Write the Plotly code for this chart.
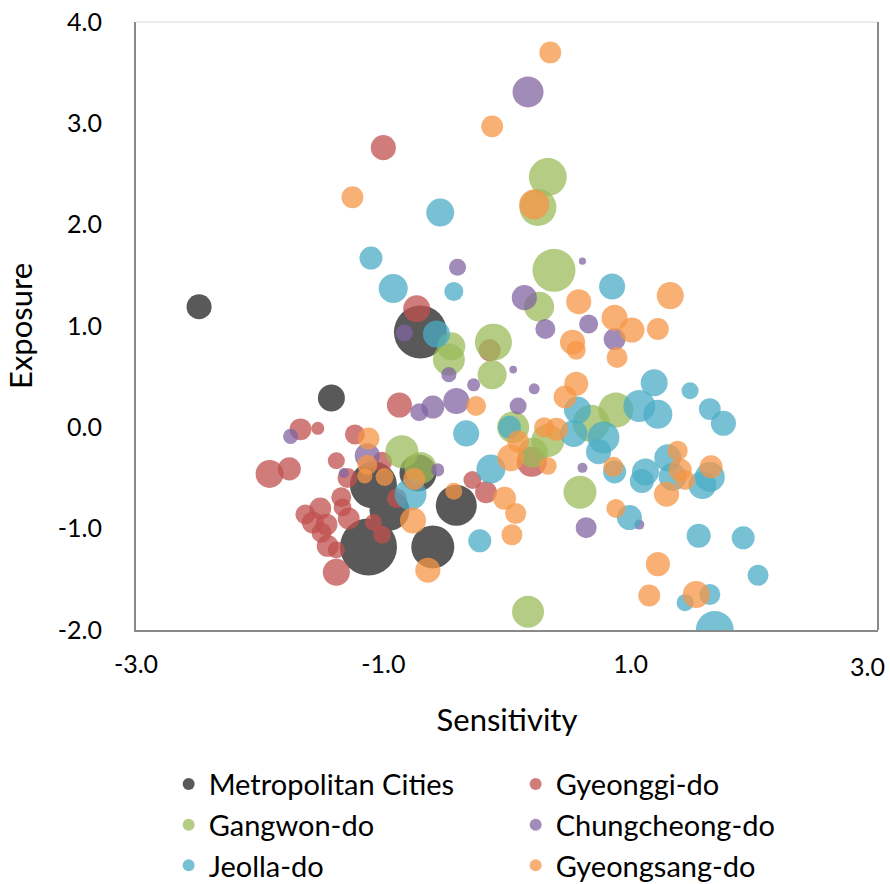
import plotly.graph_objects as go

# ---- data (Sensitivity, Exposure, bubble size) ----
metro_x = [-2.49, -1.42, -0.70, -1.12, -1.08, -0.95, -0.72, -0.41, -0.60]
metro_y = [1.19, 0.29, 0.94, -1.18, -0.57, -0.82, -0.45, -0.77, -1.18]
metro_s = [6.3, 7.3, 28.1, 32.5, 22.1, 16.0, 13.7, 16.8, 18.5]

gyeonggi_x = [-1.00, -0.73, -0.87, -0.14, -0.28, -0.17, 0.20, -1.67, -1.53, -1.23,
              -1.38, -1.01, -1.29, -1.92, -1.76, -0.89, -1.34, -1.33, -1.51, -1.63,
              -1.28, -1.57, -1.46, -1.50, -1.45, -1.38, -1.38, -1.08, -1.01]
gyeonggi_y = [2.76, 1.17, 0.22, 0.76, -0.52, -0.64, -0.34, -0.02, -0.01, -0.07,
              -0.33, -0.34, -0.50, -0.46, -0.41, -0.70, -0.69, -0.79, -0.80, -0.86,
              -0.90, -0.94, -0.96, -1.04, -1.17, -1.21, -1.43, -0.94, -1.06]
gyeonggi_s = [6.3, 7.3, 6.3, 4.8, 3.2, 4.8, 9.0, 4.8, 1.7, 4.0,
              2.9, 4.0, 4.0, 7.8, 5.3, 4.0, 4.0, 3.2, 4.8, 4.0,
              4.8, 4.8, 4.8, 4.0, 4.8, 2.9, 7.3, 2.9, 3.2]

gangwon_x = [0.33, 0.25, 0.38, 0.26, -0.45, -0.47, -0.11, -0.12, 0.05, 0.88,
             0.68, 0.33, 0.21, -0.85, -0.70, 0.59, 0.17]
gangwon_y = [2.47, 2.17, 1.55, 1.19, 0.80, 0.67, 0.84, 0.52, 0.00, 0.17,
             0.04, -0.13, -0.25, -0.24, -0.40, -0.64, -1.82]
gangwon_s = [14.4, 13.7, 18.5, 9.0, 7.8, 10.2, 13.7, 8.4, 10.2, 12.3,
             13.7, 10.9, 9.0, 10.9, 10.2, 10.9, 10.2]

chung_x = [0.17, -0.40, 0.61, 0.14, 0.31, 0.66, 0.87, -0.83, -0.47, 0.05,
           -0.27, 0.22, -0.71, -0.60, -0.41, 0.09, 0.61, -0.56, 0.64, 1.07,
           -1.75, -1.13, -1.32]
chung_y = [3.31, 1.58, 1.64, 1.28, 0.97, 1.02, 0.87, 0.93, 0.52, 0.57,
           0.42, 0.38, 0.15, 0.20, 0.26, 0.21, -0.40, -0.42, -0.99, -0.96,
           -0.09, -0.28, -0.45]
chung_s = [9.6, 2.9, 0.5, 6.3, 4.0, 3.6, 4.8, 2.9, 2.3, 0.6,
           1.7, 1.2, 3.2, 5.3, 6.8, 2.9, 1.0, 1.7, 4.4, 1.0,
           2.3, 6.3, 1.0]

jeolla_x = [-0.54, -1.10, -0.92, -0.43, 0.85, -0.57, -0.33, 0.02, 1.19, 1.48,
            1.64, 1.75, 1.07, 1.22, 0.57, 0.54, 0.78, 0.74, -0.13, 0.87,
            1.30, 1.12, 1.09, 1.34, 1.58, 1.64, 0.99, -0.78, -0.22, 1.55,
            1.91, 2.03, 1.64, 1.44, 1.68]
jeolla_y = [2.12, 1.67, 1.37, 1.34, 1.39, 0.92, -0.06, 0.00, 0.44, 0.36,
            0.18, 0.04, 0.21, 0.13, 0.17, -0.06, -0.10, -0.24, -0.41, -0.44,
            -0.30, -0.44, -0.53, -0.49, -0.57, -0.49, -0.89, -0.66, -1.12, -1.07,
            -1.09, -1.46, -1.65, -1.73, -2.00]
jeolla_s = [7.8, 5.3, 8.4, 3.6, 6.8, 7.3, 6.8, 5.3, 7.3, 2.9,
            4.8, 6.3, 10.2, 8.4, 7.3, 7.3, 10.2, 6.3, 8.4, 5.3,
            7.3, 7.3, 5.8, 7.8, 7.8, 9.0, 6.3, 10.2, 5.3, 5.8,
            5.3, 4.4, 4.4, 2.9, 14.4]

gyeongsang_x = [0.35, -0.12, -1.25, 0.22, 0.58, 0.87, 1.01, 1.32, 1.22, 0.53,
                0.56, 0.89, 0.56, 0.47, -0.25, 0.30, 0.40, 0.09, 0.03, 0.33,
                0.86, 1.38, 1.40, 1.44, 1.65, 1.29, 0.88, -0.02, 0.07, 0.04,
                -0.43, -0.64, -0.76, -0.75, -1.12, -1.13, -1.15, -0.99, 1.22, 1.15,
                1.53]
gyeongsang_y = [3.70, 2.97, 2.27, 2.20, 1.24, 1.08, 0.96, 1.30, 0.97, 0.84,
                0.76, 0.69, 0.43, 0.30, 0.21, 0.00, -0.02, -0.14, -0.30, -0.38,
                -0.39, -0.23, -0.42, -0.52, -0.39, -0.66, -0.80, -0.70, -0.85, -1.06,
                -0.63, -1.41, -0.92, -0.51, -0.11, -0.37, -0.48, -0.49, -1.35, -1.66,
                -1.65]
gyeongsang_s = [4.8, 4.8, 4.8, 9.0, 6.3, 6.8, 6.3, 7.3, 4.8, 6.3,
                3.6, 4.4, 5.8, 5.3, 4.0, 4.0, 5.3, 4.8, 7.3, 3.2,
                4.0, 4.0, 5.3, 4.0, 5.3, 6.3, 3.6, 5.3, 4.4, 4.4,
                2.9, 6.3, 6.8, 4.8, 4.8, 4.0, 2.3, 3.2, 5.8, 4.8,
                7.3]

x_ticks = [-3, -1, 1, 3]
x_ticktext = ["-3.0", "-1.0", "1.0", "3.0"]
y_ticks = [-2, -1, 0, 1, 2, 3, 4]
y_ticktext = ["-2.0", "-1.0", "0.0", "1.0", "2.0", "3.0", "4.0"]

series = [
    ("Metropolitan Cities", metro_x, metro_y, metro_s, "#595959", 1.0),
    ("Gyeonggi-do", gyeonggi_x, gyeonggi_y, gyeonggi_s, "#C0504D", 0.75),
    ("Gangwon-do", gangwon_x, gangwon_y, gangwon_s, "#9BBB59", 0.75),
    ("Chungcheong-do", chung_x, chung_y, chung_s, "#8064A2", 0.75),
    ("Jeolla-do", jeolla_x, jeolla_y, jeolla_s, "#4BACC6", 0.75),
    ("Gyeongsang-do", gyeongsang_x, gyeongsang_y, gyeongsang_s, "#F79646", 0.75),
]

FONT = "Lato, 'Open Sans', sans-serif"

fig = go.Figure()
for name, xs, ys, ss, col, op in series:
    order = sorted(range(len(ss)), key=lambda i: -ss[i])
    fig.add_trace(go.Scatter(
        x=[xs[i] for i in order], y=[ys[i] for i in order], mode="markers", name=name,
        marker=dict(size=[ss[i] for i in order], sizemode="area", sizeref=0.02,
                    color=col, opacity=op, line=dict(width=0)),
        cliponaxis=True,
    ))

# last x tick label is pulled inward so it stays inside the page (as in the original)
fig.add_annotation(x=x_ticks[-1], y=0, xref="x", yref="paper", yanchor="top",
                   xanchor="right", xshift=9, yshift=-19, showarrow=False,
                   text=x_ticktext[-1], font=dict(size=25, family=FONT, color="black"))

fig.update_layout(
    width=890, height=884,
    margin=dict(l=136, r=12, t=22, b=254, autoexpand=False),
    paper_bgcolor="white", plot_bgcolor="white",
    font=dict(family=FONT, color="black"),
    showlegend=True,
    legend=dict(orientation="h", x=0.044, xanchor="left", y=-0.2115, yanchor="top",
                font=dict(size=29, family=FONT), entrywidth=302, entrywidthmode="pixels",
                tracegroupgap=0, itemsizing="constant"),
    xaxis=dict(range=[-3, 3], tickvals=x_ticks[:-1], ticktext=x_ticktext[:-1],
               showgrid=False, zeroline=False, showline=True, linecolor="#898989", linewidth=2,
               ticks="", tickfont=dict(size=25), ticklabelstandoff=11, automargin=False,
               ticklabeloverflow="allow",
               title=dict(text="Sensitivity", font=dict(size=31), standoff=32)),
    yaxis=dict(range=[-2, 4], tickvals=y_ticks, ticktext=y_ticktext,
               showgrid=False, zeroline=False, showline=True,
               linecolor="#898989", linewidth=2, automargin=False,
               ticks="", tickfont=dict(size=25), ticklabelstandoff=27,
               ticklabeloverflow="allow",
               title=dict(text="Exposure", font=dict(size=31), standoff=16)),
    shapes=[dict(type="line", xref="paper", yref="paper", x0=0, x1=1, y0=1, y1=1,
                 line=dict(color="#d9d9d9", width=1)),
            dict(type="line", xref="paper", yref="paper", x0=1, x1=1, y0=0, y1=1,
                 line=dict(color="#898989", width=2))],
)

fig.write_html("out.html", config={"displayModeBar": False},
               post_script="document.body.style.margin='0';document.body.style.overflow='hidden';")
